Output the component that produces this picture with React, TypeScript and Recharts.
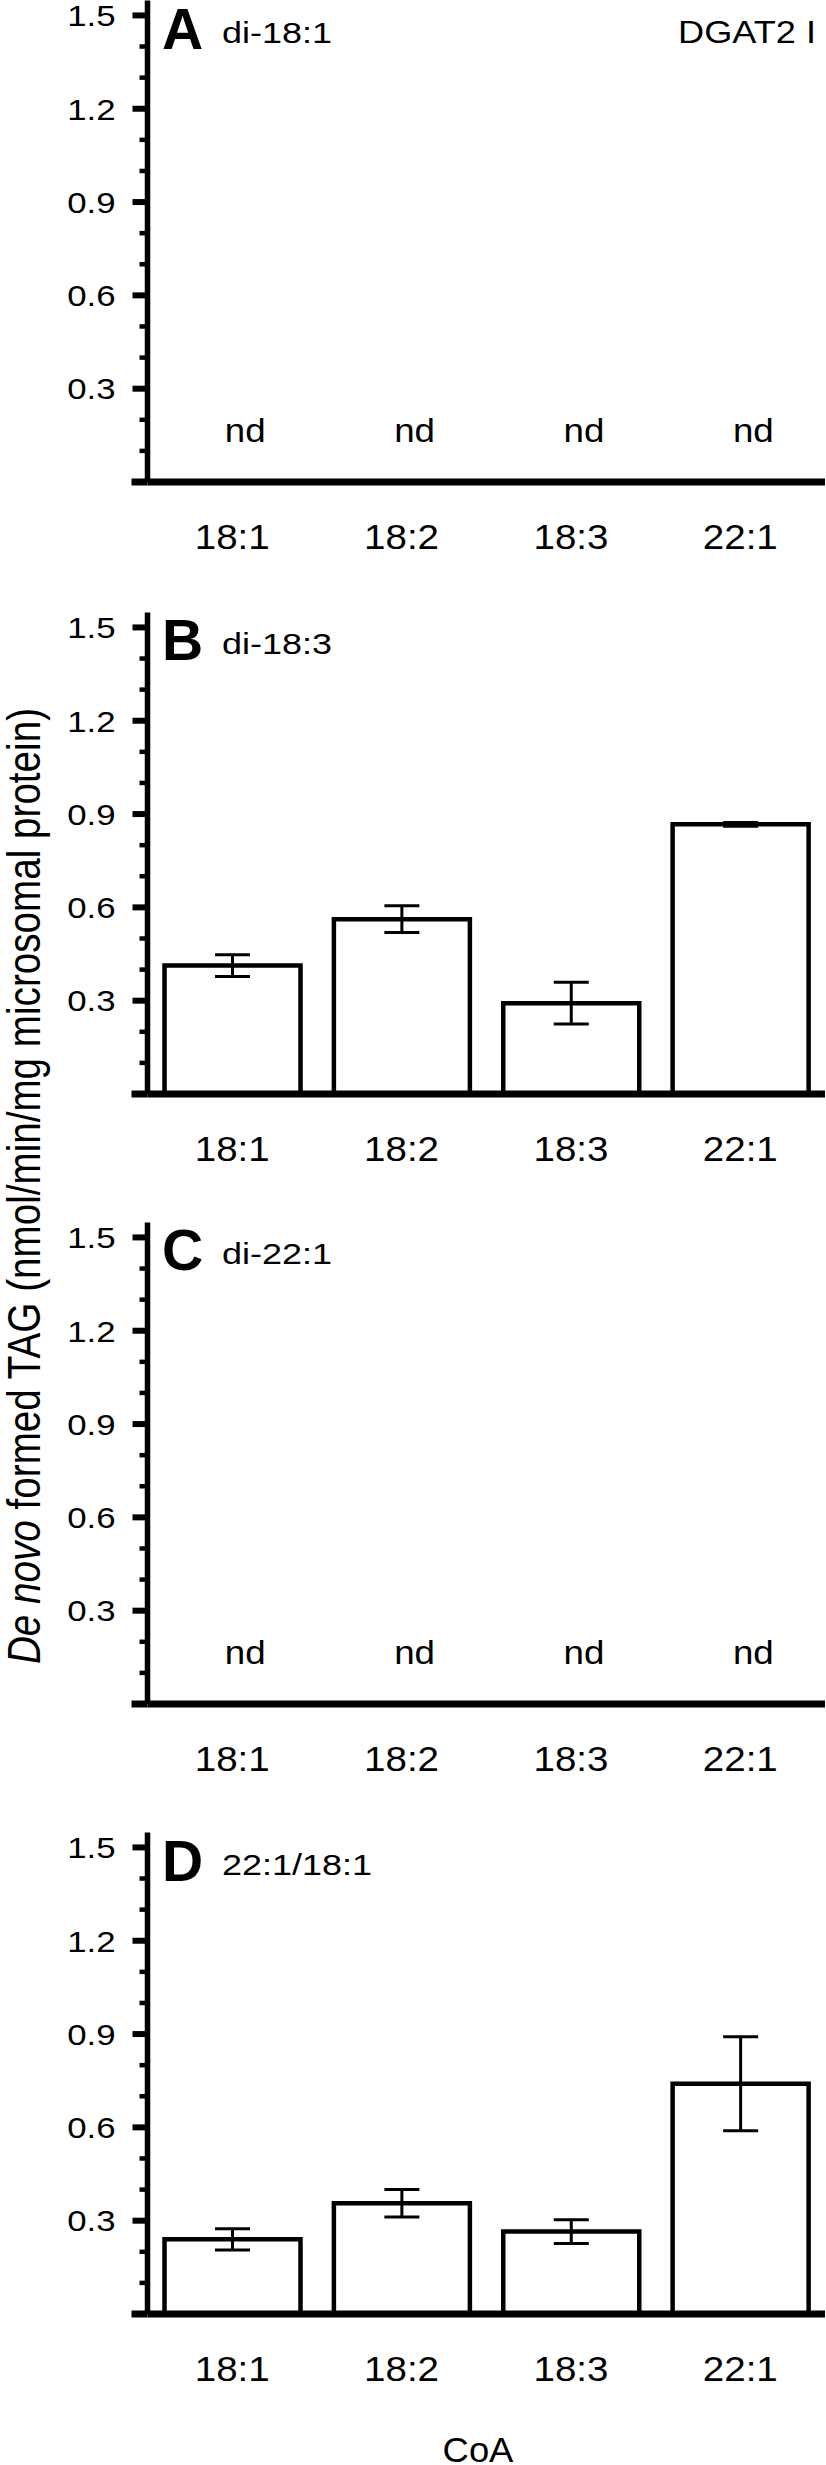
import React from 'react';
import { BarChart, Bar, XAxis, YAxis, ErrorBar } from 'recharts';

// ---- data ----
const categories = ['18:1', '18:2', '18:3', '22:1'];
const meanB = [0.413, 0.562, 0.292, 0.867];
const errB = [0.035, 0.043, 0.067, 0.006];
const meanD = [0.24, 0.356, 0.265, 0.74];
const errD = [0.034, 0.044, 0.038, 0.151];
const ndMarks = ['nd', 'nd', 'nd', 'nd'];
const panelLetters = ['A', 'B', 'C', 'D'];
const substrates = ['di-18:1', 'di-18:3', 'di-22:1', '22:1/18:1'];
const yTicks = [0, 0.1, 0.2, 0.3, 0.4, 0.5, 0.6, 0.7, 0.8, 0.9, 1.0, 1.1, 1.2, 1.3, 1.4, 1.5];
const enzymeLabel = 'DGAT2 I';
const xTitle = 'CoA';

// ---- layout ----
const FONT = "'Liberation Sans', Arial, Helvetica, sans-serif";
const W = 826;
const H = 2465;
const PANEL_H = 610;
const panelTops = [0, 611.5, 1221.5, 1832];

type Row = { cat: string; v: number | null; e?: number; note?: string };

const rowsFrom = (vals: number[] | null, errs: number[] | null, notes: string[] | null): Row[] =>
  categories.map((c, i) => ({
    cat: c,
    v: vals ? vals[i] : null,
    e: errs ? errs[i] : undefined,
    note: notes ? notes[i] : undefined,
  }));

const panels = [
  { data: rowsFrom(null, null, ndMarks), nd: true },
  { data: rowsFrom(meanB, errB, null), nd: false },
  { data: rowsFrom(null, null, ndMarks), nd: true },
  { data: rowsFrom(meanD, errD, null), nd: false },
];

const SText = ({ x, y, sx = 1, size, anchor = 'start', weight = 'normal', children }: any) => (
  <text
    transform={`translate(${x},${y}) scale(${sx},1)`}
    x={0}
    y={0}
    fontSize={size}
    fontFamily={FONT}
    textAnchor={anchor}
    fontWeight={weight}
    fill="#000"
  >
    {children}
  </text>
);

const YTick = (props: any) => {
  const { x, y, payload } = props;
  const v = payload.value;
  const k = Math.round(v * 10);
  if (k === 0) {
    return <line x1={x - 16} x2={x} y1={y} y2={y} stroke="#000" strokeWidth={7} />;
  }
  const major = k % 3 === 0;
  return (
    <g>
      <line x1={x - (major ? 15 : 8)} x2={x} y1={y} y2={y} stroke="#000" strokeWidth={major ? 6 : 4.5} />
      {major && (
        <SText x={x - 32} y={y + 10.8} sx={1.16} size={30} anchor="end">
          {v.toFixed(1)}
        </SText>
      )}
    </g>
  );
};

const XTick = (props: any) => {
  const { x, y, payload, notes } = props;
  const idx = payload.index ?? categories.indexOf(payload.value);
  const note = notes ? notes[idx] : null;
  return (
    <g>
      <SText x={x} y={y + 67} sx={1.1} size={35} anchor="middle">
        {payload.value}
      </SText>
      {note && (
        <SText x={x + 13} y={y - 40} sx={1.08} size={34} anchor="middle">
          {note}
        </SText>
      )}
    </g>
  );
};

const Panel = ({ data, nd }: { data: Row[]; nd: boolean }) => (
  <BarChart
    width={W}
    height={PANEL_H}
    data={data}
    margin={{ top: 0.5, right: 1, bottom: 28, left: 0 }}
    barSize={136}
  >
    <XAxis
      dataKey="cat"
      type="category"
      interval={0}
      height={100}
      tickLine={false}
      tickSize={0}
      tickMargin={0}
      axisLine={{ stroke: '#000', strokeWidth: 7 }}
      tick={<XTick notes={nd ? data.map((d) => d.note) : null} />}
    />
    <YAxis
      type="number"
      domain={[0, 1.548]}
      allowDataOverflow
      ticks={yTicks}
      interval={0}
      width={147.5}
      tickLine={false}
      tickSize={0}
      tickMargin={0}
      axisLine={{ stroke: '#000', strokeWidth: 5.5 }}
      tick={<YTick />}
    />
    <Bar dataKey="v" fill="#fff" stroke="#000" strokeWidth={4.5} isAnimationActive={false}>
      {!nd && (
        <ErrorBar
          dataKey="e"
          direction="y"
          width={17.5}
          stroke="#000"
          strokeWidth={3}
          isAnimationActive={false}
        />
      )}
    </Bar>
  </BarChart>
);

export default function App() {
  return (
    <div
      style={{
        position: 'absolute',
        left: 0,
        top: 0,
        width: W,
        height: H,
        background: '#fff',
        overflow: 'hidden',
      }}
    >
      {panels.map((p, i) => (
        <div key={i} style={{ position: 'absolute', left: 0, top: panelTops[i], width: W, height: PANEL_H }}>
          <Panel data={p.data} nd={p.nd} />
        </div>
      ))}
      <svg
        width={W}
        height={H}
        style={{ position: 'absolute', left: 0, top: 0, pointerEvents: 'none' }}
      >
        {panelLetters.map((L, i) => (
          <g key={L}>
            <SText x={162} y={panelTops[i] + 48.5} size={57} weight="bold">
              {L}
            </SText>
            <SText x={222} y={panelTops[i] + 42.5} sx={1.2} size={30}>
              {substrates[i]}
            </SText>
          </g>
        ))}
        <SText x={816} y={43} sx={1.13} size={32} anchor="end">
          {enzymeLabel}
        </SText>
        <SText x={478} y={2462} sx={1.04} size={35} anchor="middle">
          {xTitle}
        </SText>
        <text
          transform="translate(39.5,1186) rotate(-90) scale(0.84,1)"
          fontSize={46}
          fontFamily={FONT}
          textAnchor="middle"
          fill="#000"
        >
          <tspan fontStyle="italic">De novo</tspan>
          <tspan> formed TAG (nmol/min/mg microsomal protein)</tspan>
        </text>
      </svg>
    </div>
  );
}
